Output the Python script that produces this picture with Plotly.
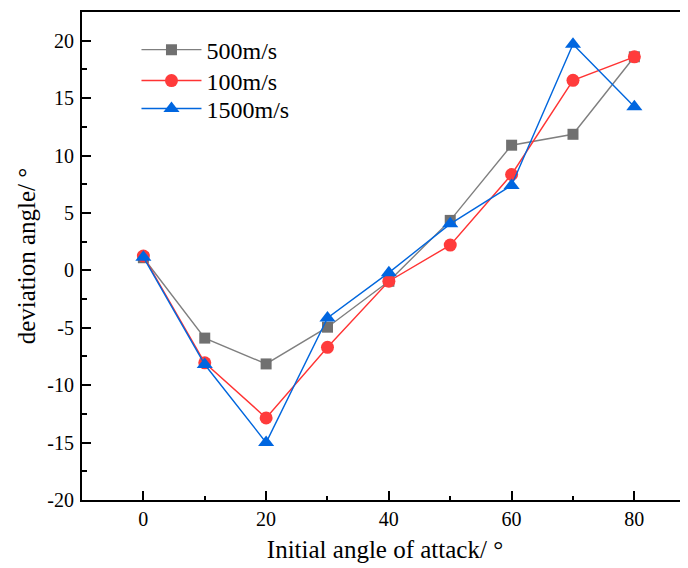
import plotly.graph_objects as go

x_angles = [0, 10, 20, 30, 40, 50, 60, 70, 80]
series_names = ["500m/s", "100m/s", "1500m/s"]
v500 = [1.1, -5.9, -8.15, -4.95, -0.95, 4.35, 10.9, 11.85, 18.6]
v100 = [1.25, -8.05, -12.85, -6.7, -0.95, 2.2, 8.35, 16.55, 18.6]
v1500 = [1.15, -8.2, -15.0, -4.15, -0.2, 4.05, 7.4, 19.7, 14.25]
y_ticks = [-20, -15, -10, -5, 0, 5, 10, 15, 20]
x_ticks = [0, 20, 40, 60, 80]

FONT = "Liberation Serif"

fig = go.Figure()
fig.add_trace(go.Scatter(
    x=x_angles, y=v500, name=series_names[0], mode="lines+markers",
    line=dict(color="#7f7f7f", width=1.4),
    marker=dict(symbol="square", size=11, color="#707070"),
    legend="legend",
))
fig.add_trace(go.Scatter(
    x=x_angles, y=v100, name=series_names[1], mode="lines+markers",
    line=dict(color="#ff3333", width=1.4),
    marker=dict(symbol="circle", size=13, color="#ff3b3b"),
    legend="legend2",
))
fig.add_trace(go.Scatter(
    x=x_angles, y=v1500, name=series_names[2], mode="lines+markers",
    line=dict(color="#0066dd", width=1.4),
    marker=dict(symbol="triangle-up", size=14, color="#0066e0"),
    legend="legend3",
))

def leg(ypaper):
    return dict(
        x=0.0899, y=ypaper, xanchor="left", yanchor="middle",
        bgcolor="rgba(0,0,0,0)", font=dict(size=24, family=FONT, color="black"),
        itemwidth=60,
    )

fig.update_layout(
    width=680, height=560,
    margin=dict(l=74, r=0, t=4, b=67.5),
    paper_bgcolor="white", plot_bgcolor="white",
    font=dict(family=FONT, color="black", size=20),
    showlegend=True,
    legend=leg(0.922),
    legend2=leg(0.8587),
    legend3=leg(0.8014),
    xaxis=dict(
        range=[-10, 88.74], tickvals=x_ticks, ticktext=[str(v) for v in x_ticks],
        showgrid=False, zeroline=False, automargin=False,
        showline=True, linecolor="black", linewidth=2, mirror=True,
        ticks="inside", ticklen=9, tickwidth=1.5, tickcolor="black",
        minor=dict(ticks="inside", ticklen=4, tickwidth=1.5, tickcolor="black", dtick=10, tick0=0, showgrid=False),
        tickfont=dict(size=20, family=FONT, color="black"),
        title=dict(text="Initial angle of attack/ °", font=dict(size=25, family=FONT, color="black"), standoff=11),
    ),
    yaxis=dict(
        range=[-20, 22.5], tickvals=y_ticks, ticktext=[str(v) for v in y_ticks],
        showgrid=False, zeroline=False, automargin=False,
        showline=True, linecolor="black", linewidth=2, mirror=False,
        ticks="inside", ticklen=9, tickwidth=1.5, tickcolor="black",
        minor=dict(ticks="inside", ticklen=5, tickwidth=1.5, tickcolor="black", dtick=2.5, tick0=0, showgrid=False),
        tickfont=dict(size=20, family=FONT, color="black"),
        ticklabelstandoff=2,
        title=dict(text="deviation angle/ °", font=dict(size=25, family=FONT, color="black"), standoff=5),
    ),
)

fig.write_html("out.html")
